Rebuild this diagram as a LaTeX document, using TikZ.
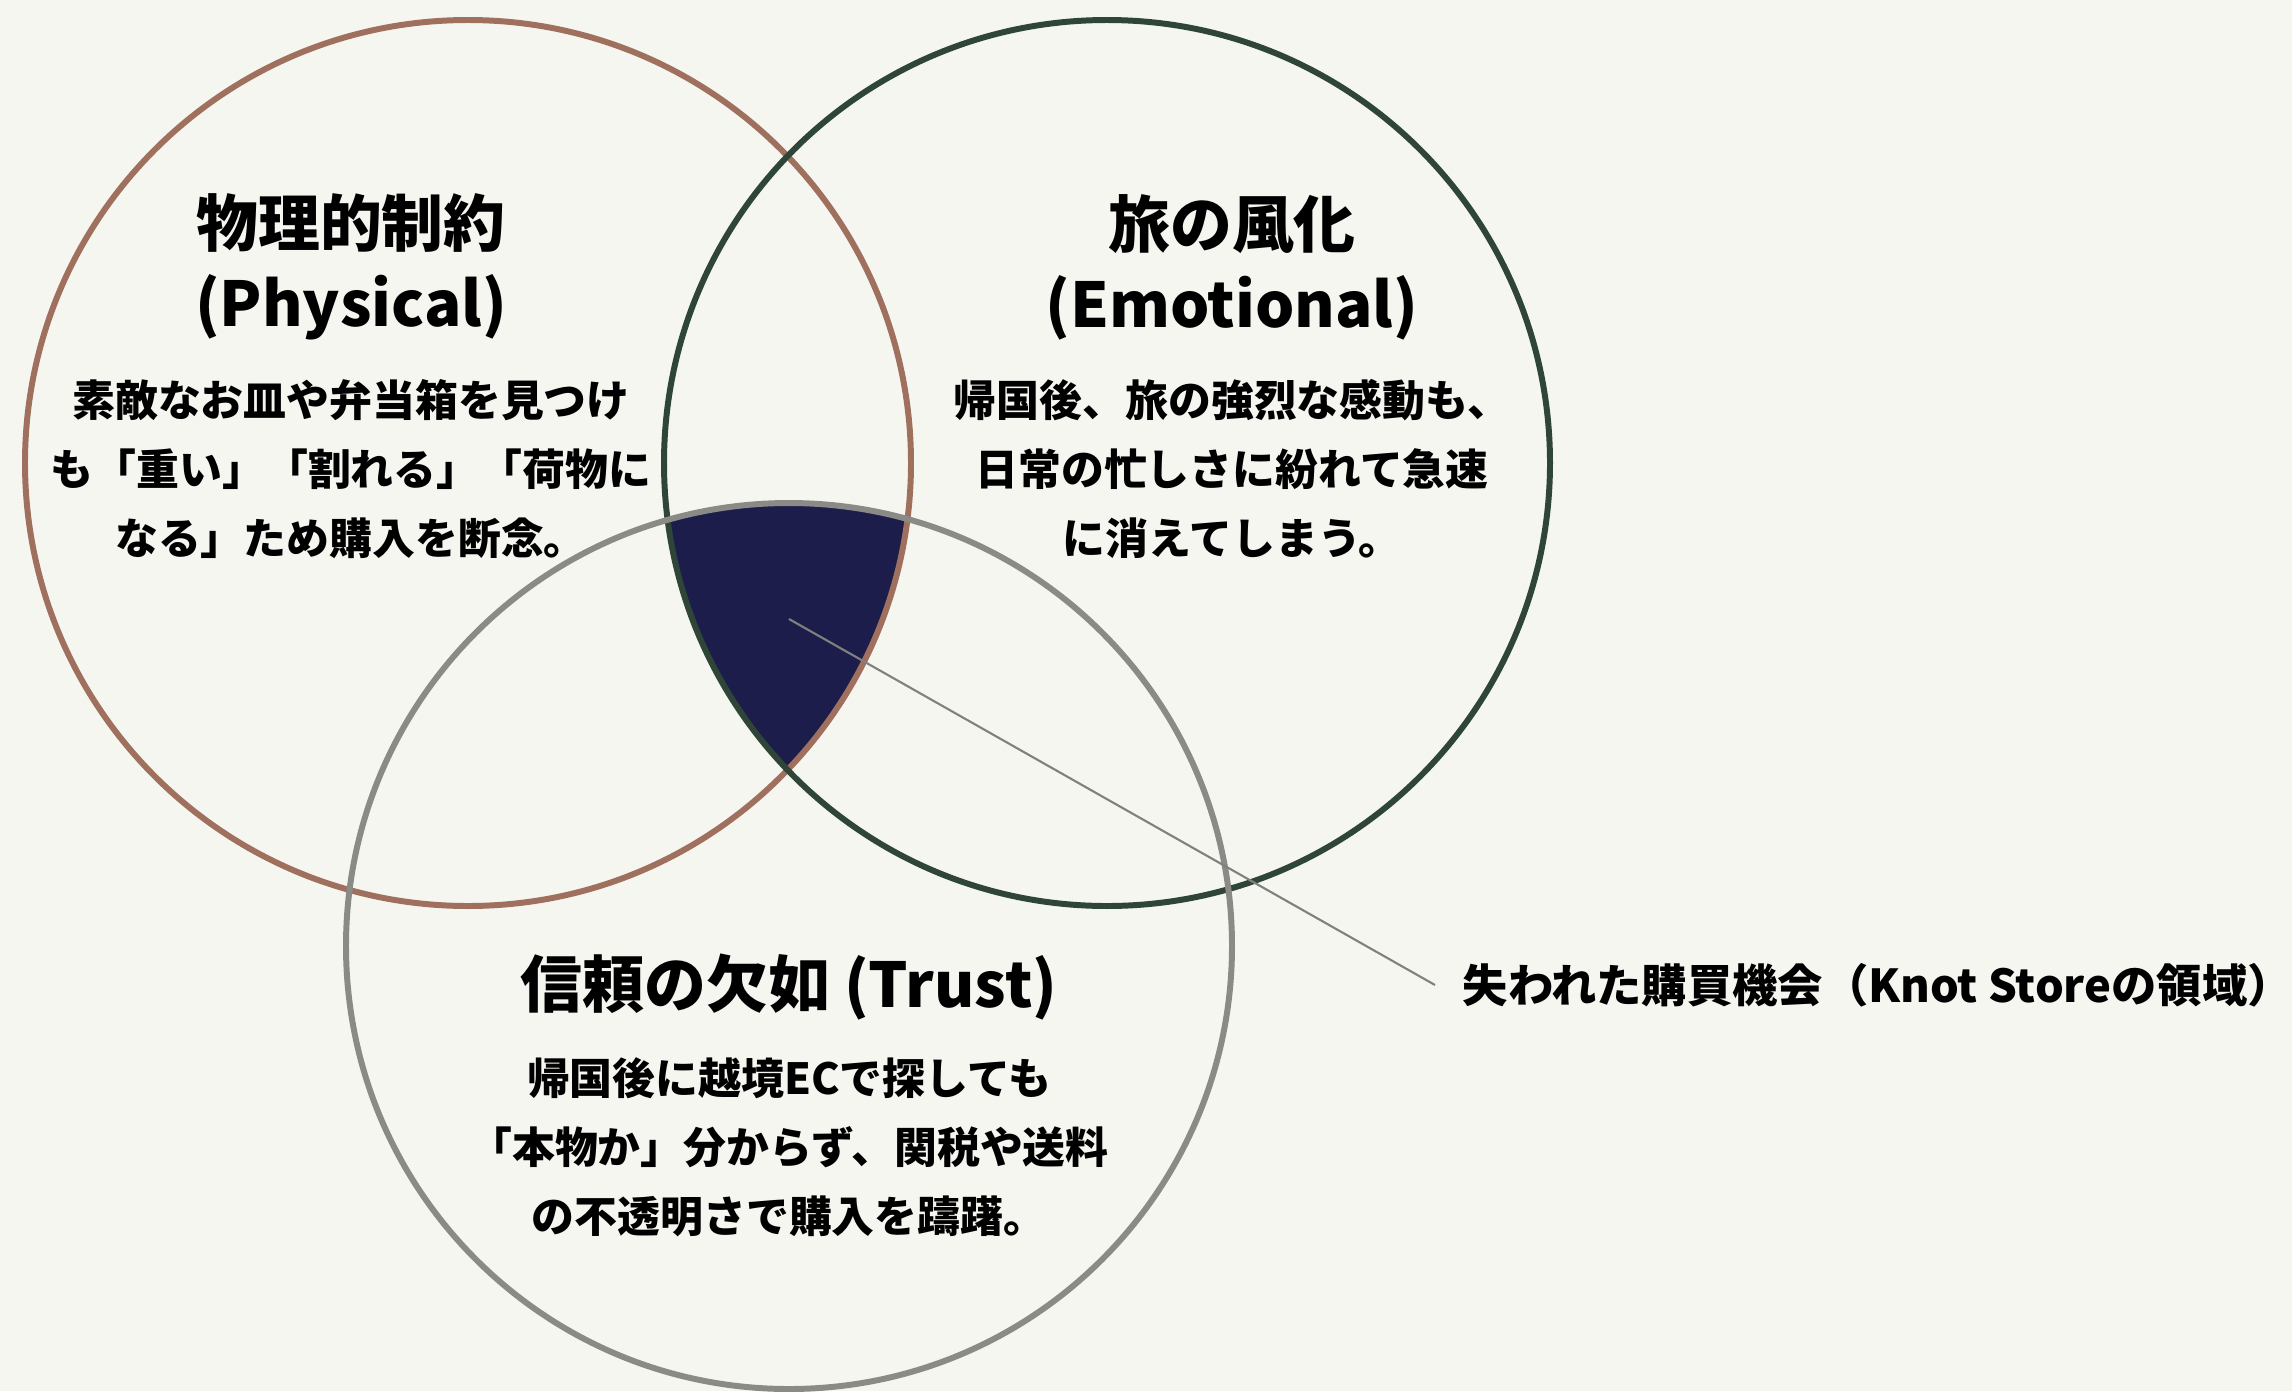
\documentclass[tikz,border=0pt]{standalone}
\usepackage{fontspec}
\setmainfont{Noto Sans CJK JP}
\usepackage{xcolor}
\usepackage{tikz}
\usetikzlibrary{positioning}

\definecolor{paper}{HTML}{F6F6F1}
\definecolor{physc}{HTML}{A0705F}
\definecolor{emoc}{HTML}{2E4538}
\definecolor{trustc}{HTML}{8A8A87}
\definecolor{corec}{HTML}{1D1D4B}

\begin{document}
\begin{tikzpicture}[
  venn/.style={circle, minimum size=8.86cm, inner sep=0pt, line width=1.7pt},
  ttl/.style={align=center, font=\fontsize{17.6}{22.8}\selectfont\bfseries},
  txt/.style={align=center, font=\fontsize{12.2}{19.6}\selectfont\bfseries},
  lbl/.style={anchor=west, inner sep=0pt, font=\fontsize{12.9}{15}\selectfont\bfseries},
  leader/.style={draw=black!50, line width=0.6pt}
]
  \useasboundingbox (0,0) rectangle (22.92,-13.91);
  \fill[paper] (0,0) rectangle (22.92,-13.91);

  \coordinate (cphys) at (4.68,-4.63);
  \coordinate (cemo) at (11.07,-4.63);
  \coordinate (ctrust) at (7.89,-9.46);

  % the common area of all three
  \begin{scope}
    \clip (cphys) circle (4.43);
    \clip (cemo) circle (4.43);
    \fill[corec] (ctrust) circle (4.43);
  \end{scope}

  \node[venn, draw=physc] (phys) at (cphys) {};
  \node[venn, draw=emoc] (emo) at (cemo) {};
  \node[venn, draw=trustc] (trust) at (ctrust) {};

  \node[ttl] (physttl) at (3.51,-2.67) {物理的制約\\(Physical)};
  \node[txt] (phystxt) at (3.51,-4.69) {素敵なお皿や弁当箱を見つけ\\も「重い」「割れる」「荷物に\\なる」ため購入を断念。};

  \node[ttl] (emottl) at (12.32,-2.67) {旅の風化\\(Emotional)};
  \node[txt] (emotxt) at (12.32,-4.69) {帰国後、旅の強烈な感動も、\\日常の忙しさに紛れて急速\\に消えてしまう。};

  \node[ttl] (trustttl) at (7.89,-9.87) {信頼の欠如 (Trust)};
  \node[txt] (trusttxt) at (7.89,-11.47) {帰国後に越境ECで探しても\\「本物か」分からず、関税や送料\\の不透明さで購入を躊躇。};

  \coordinate (core) at (7.89,-6.19);
  \node[lbl] (lost) at (14.62,-9.85) {失われた購買機会（Knot Storeの領域）};
  \draw[leader] (core) -- ([xshift=-0.27cm]lost.west);
\end{tikzpicture}
\end{document}
